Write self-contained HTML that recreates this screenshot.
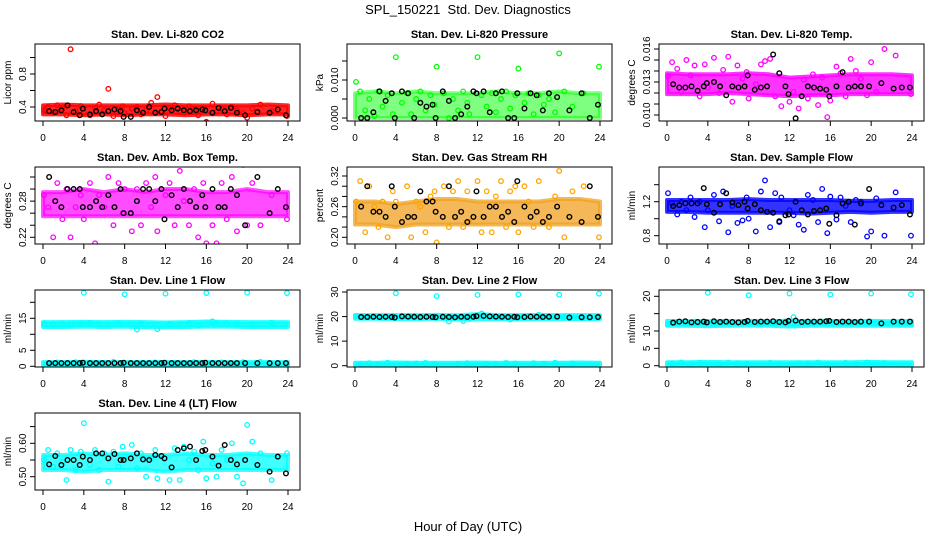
<!DOCTYPE html>
<html><head><meta charset="utf-8">
<style>
html,body{margin:0;padding:0;background:#fff;}
svg text{font-family:"Liberation Sans",sans-serif;fill:#000;}
</style></head>
<body>
<svg id="chart" xmlns="http://www.w3.org/2000/svg" width="936" height="540" viewBox="0 0 936 540">
<text x="468" y="14" text-anchor="middle" font-size="13" xml:space="preserve">SPL_150221  Std. Dev. Diagnostics</text>
<text x="468" y="531" text-anchor="middle" font-size="13">Hour of Day (UTC)</text>
</svg>
<script>
const hoursScatter=[0.1,0.5,1.0,1.4,1.9,2.3,2.7,3.2,3.7,4.0,4.6,5.1,5.5,6.0,6.4,6.9,7.4,7.8,8.0,8.7,9.2,9.6,10.1,10.6,11.0,11.2,12.0,12.4,12.9,13.4,13.8,14.3,14.8,15.2,15.7,16.0,16.6,17.0,17.5,18.0,18.5,19.0,19.6,20.0,20.5,21.3,22.4,23.9];
const hoursBlack=[0.6,1.2,1.8,2.4,3.0,3.6,3.9,4.6,5.2,5.8,6.4,7.0,7.6,7.9,8.6,9.2,9.8,10.4,11.0,11.6,11.9,12.6,13.2,13.8,14.4,15.0,15.6,15.9,16.6,17.2,17.8,18.4,19.0,19.8,21.0,22.2,23.0,23.8];
const bandHours=[0,2,4,6,8,10,12,14,16,18,20,22,24];
const xTicks=[0,4,8,12,16,20,24];

const co2Scatter=[0.36,0.4,0.33,0.42,0.38,0.3,1.10,0.35,0.41,0.33,0.3,0.39,0.43,0.36,0.62,0.29,0.37,0.41,0.33,0.38,0.4,0.31,0.36,0.45,0.34,0.52,0.29,0.38,0.42,0.35,0.33,0.41,0.37,0.3,0.39,0.22,0.44,0.34,0.38,0.31,0.4,0.36,0.33,0.27,0.38,0.43,0.35,0.29];
const co2Black=[0.35,0.34,0.36,0.42,0.34,0.3,0.38,0.31,0.35,0.31,0.35,0.37,0.35,0.28,0.28,0.36,0.33,0.4,0.33,0.34,0.38,0.36,0.38,0.36,0.35,0.36,0.37,0.36,0.33,0.39,0.35,0.39,0.33,0.3,0.34,0.33,0.37,0.3];
const co2BandLo=[0.31,0.31,0.3,0.31,0.3,0.31,0.31,0.3,0.31,0.31,0.3,0.31,0.31];
const co2BandHi=[0.42,0.43,0.42,0.42,0.42,0.42,0.43,0.42,0.42,0.42,0.42,0.43,0.42];

const presScatter=[0.0095,0.007,0.002,0.005,0.0005,0.007,0.003,0.006,0.001,0.016,0.004,0.0065,0.001,0.005,0.007,0.002,0.006,0.0035,0.0135,0.0065,0.0,0.005,0.002,0.007,0.004,0.001,0.016,0.006,0.003,0.0065,0.0015,0.005,0.007,0.0025,0.006,0.013,0.004,0.0065,0.001,0.006,0.0035,0.005,0.0015,0.017,0.007,0.003,0.0065,0.0135];
const presBlack=[0.0,0.0,0.0015,0.007,0.0045,0.0065,0.0,0.007,0.0065,0.0,0.004,0.003,0.0035,0.0,0.007,0.0045,0.0,0.001,0.003,0.007,0.0065,0.007,0.0015,0.0065,0.007,0.0,0.0,0.0065,0.0025,0.0065,0.006,0.002,0.0065,0.0055,0.002,0.0065,0.0,0.0035];
const presBandLo=[0,0,0,0,0,0,0,0,0,0,0,0,0];
const presBandHi=[0.0065,0.007,0.0065,0.007,0.0065,0.0065,0.0065,0.007,0.0065,0.0065,0.007,0.0065,0.0065];

const tempScatter=[0.0135,0.0148,0.0142,0.0121,0.015,0.0136,0.0145,0.0117,0.0146,0.0125,0.0152,0.012,0.0141,0.0153,0.0112,0.0145,0.0133,0.0139,0.0115,0.0128,0.0146,0.0149,0.0151,0.0117,0.0138,0.0108,0.0112,0.0121,0.0106,0.0132,0.0115,0.0137,0.0109,0.0134,0.0098,0.0113,0.0144,0.0138,0.0117,0.0151,0.014,0.0133,0.0118,0.0148,0.0121,0.016,0.0154,0.0119];
const tempBlack=[0.0128,0.0125,0.0125,0.0126,0.0122,0.0126,0.0129,0.0130,0.0126,0.0118,0.0126,0.0125,0.0126,0.0136,0.0123,0.0125,0.0126,0.0155,0.0138,0.0126,0.0119,0.0097,0.0117,0.0126,0.0125,0.0124,0.0123,0.0117,0.0126,0.0139,0.0125,0.0126,0.0126,0.0126,0.0129,0.0124,0.0125,0.0125];
const tempBandLo=[0.0119,0.0119,0.0119,0.012,0.0119,0.0118,0.0117,0.0118,0.0118,0.0119,0.0119,0.0119,0.0119];
const tempBandHi=[0.0138,0.0137,0.0137,0.0137,0.0138,0.0137,0.0134,0.0135,0.0136,0.0137,0.0137,0.0137,0.0136];

const ambScatter=[0.29,0.27,0.22,0.31,0.25,0.3,0.22,0.27,0.29,0.25,0.31,0.21,0.29,0.27,0.32,0.24,0.31,0.26,0.3,0.23,0.3,0.24,0.31,0.27,0.32,0.23,0.29,0.31,0.24,0.33,0.28,0.24,0.3,0.22,0.31,0.21,0.24,0.21,0.31,0.25,0.32,0.23,0.34,0.24,0.31,0.24,0.29,0.25];
const ambBlack=[0.32,0.28,0.27,0.30,0.30,0.30,0.27,0.27,0.28,0.27,0.29,0.27,0.30,0.26,0.26,0.28,0.30,0.30,0.28,0.30,0.25,0.29,0.27,0.30,0.28,0.27,0.29,0.27,0.30,0.27,0.27,0.30,0.29,0.24,0.32,0.26,0.30,0.27];
const ambBandLo=[0.255,0.255,0.255,0.255,0.255,0.255,0.255,0.255,0.255,0.255,0.255,0.255,0.255];
const ambBandHi=[0.295,0.295,0.3,0.295,0.3,0.295,0.3,0.3,0.295,0.295,0.3,0.295,0.295];

const rhScatter=[0.27,0.31,0.21,0.3,0.26,0.22,0.27,0.2,0.29,0.27,0.23,0.3,0.2,0.27,0.26,0.21,0.28,0.29,0.19,0.3,0.22,0.29,0.31,0.22,0.29,0.23,0.31,0.21,0.29,0.21,0.28,0.31,0.22,0.29,0.3,0.21,0.3,0.27,0.22,0.31,0.23,0.22,0.28,0.33,0.2,0.29,0.3,0.2];
const rhBlack=[0.26,0.3,0.25,0.25,0.24,0.3,0.26,0.23,0.24,0.24,0.29,0.27,0.27,0.25,0.24,0.3,0.24,0.25,0.23,0.24,0.29,0.24,0.26,0.26,0.24,0.25,0.23,0.31,0.26,0.24,0.25,0.23,0.24,0.26,0.24,0.23,0.3,0.24];
const rhBandLo=[0.225,0.225,0.22,0.225,0.225,0.225,0.225,0.225,0.225,0.225,0.225,0.225,0.225];
const rhBandHi=[0.27,0.27,0.265,0.27,0.275,0.275,0.27,0.27,0.27,0.27,0.275,0.275,0.27];

const flowScatter=[1.3,1.18,1.05,1.2,1.1,1.25,1.02,1.2,0.9,1.1,1.28,0.97,1.32,0.84,1.15,0.95,0.98,1.25,1.0,0.85,1.32,1.45,0.9,1.3,0.96,1.25,1.1,1.04,0.93,0.87,1.28,1.22,0.96,1.35,0.83,1.26,0.99,1.25,1.15,0.96,1.22,1.2,0.79,0.85,1.24,0.8,1.31,0.8];
const flowBlack=[1.15,1.16,1.18,1.18,1.18,1.36,1.17,1.07,1.17,1.3,1.19,1.16,1.2,1.12,1.17,1.1,1.08,1.07,0.97,1.04,1.05,1.2,1.1,1.05,1.09,1.1,1.12,0.94,1.04,1.18,1.2,0.93,1.18,1.35,1.16,1.13,1.16,1.05];
const flowBandLo=[1.08,1.08,1.07,1.07,1.07,1.07,1.07,1.06,1.07,1.08,1.07,1.08,1.08];
const flowBandHi=[1.22,1.22,1.22,1.22,1.23,1.22,1.22,1.22,1.22,1.21,1.21,1.22,1.22];

const l1Scatter=[13.3,0.8,13.1,1.2,13.4,0.9,13.0,1.3,13.2,23.0,13.5,0.7,13.2,1.1,13.0,1.4,13.3,0.9,22.5,13.1,11.5,13.4,0.8,12.9,1.2,11.6,22.7,13.2,1.0,13.1,0.8,13.4,1.3,12.7,1.0,22.9,14.0,13.5,1.2,13.3,0.9,13.2,1.3,23.0,13.1,1.4,13.6,22.9];
const l1Black=[1.0,1.0,1.0,1.0,1.0,1.0,1.1,1.0,1.0,1.0,1.0,1.0,1.0,1.1,1.0,1.0,1.0,1.0,1.0,1.0,1.1,1.0,1.0,1.0,1.0,1.0,1.0,1.1,1.0,1.0,1.0,1.0,1.0,1.0,1.0,1.0,1.0,1.0];
const l1BandLo=[12.3,12.3,12.4,12.3,12.4,12.2,12.2,12.3,12.4,12.4,12.3,12.3,12.3];
const l1BandHi=[13.8,13.8,13.9,13.8,13.9,13.8,13.7,13.8,14.0,13.9,13.8,13.8,13.8];
const l1LowLo=[0.2,0.2,0.2,0.2,0.2,0.2,0.2,0.2,0.2,0.2,0.2,0.2,0.2];
const l1LowHi=[1.3,1.3,1.4,1.3,1.3,1.3,1.3,1.3,1.4,1.3,1.3,1.3,1.3];

const l2Scatter=[20.2,0.6,19.8,1.0,20.1,0.5,19.6,1.2,20.3,29.5,19.9,0.7,20.1,0.9,19.5,1.1,20.0,0.6,28.3,19.8,18.0,19.5,0.8,18.2,1.0,19.0,28.8,21.2,0.7,20.0,0.6,19.5,1.1,18.8,0.9,29.0,19.7,20.3,1.0,20.7,0.8,19.8,1.2,28.9,20.0,0.9,19.5,29.3];
const l2Black=[19.8,19.8,19.9,19.8,19.9,19.8,19.6,20.1,20.0,19.9,19.8,19.9,19.8,19.7,19.9,19.8,19.7,19.9,19.8,19.9,20.2,20.3,20.1,20.0,19.9,19.8,19.9,19.7,19.8,20.0,19.9,19.8,19.9,20.0,19.6,19.7,19.7,19.8];
const l2BandLo=[19.1,19.1,19.0,19.0,19.1,18.8,18.9,19.0,18.9,19.0,19.0,19.0,19.0];
const l2BandHi=[20.6,20.6,20.6,20.6,20.7,20.5,21.0,20.6,20.6,20.7,20.6,20.6,20.6];
const l2LowLo=[0,0,0,0,0,0,0,0,0,0,0,0,0];
const l2LowHi=[1.2,1.2,1.3,1.2,1.2,1.2,1.3,1.2,1.2,1.2,1.2,1.3,1.2];

const l3Scatter=[12.0,0.6,12.5,0.9,12.3,0.4,12.7,0.8,12.1,21.0,12.4,0.5,12.6,0.9,12.2,0.7,12.5,0.6,20.3,12.3,12.0,12.6,0.8,12.1,0.5,12.4,20.8,14.0,0.7,12.5,0.6,12.3,0.9,12.7,0.4,20.5,12.3,12.6,0.8,12.4,0.5,12.2,0.9,20.8,12.5,0.7,12.3,20.6];
const l3Black=[12.4,12.7,12.8,12.5,12.6,12.7,12.5,12.8,12.6,12.7,12.6,12.5,12.6,12.9,12.6,12.7,12.7,12.8,12.6,12.5,12.9,13.0,12.6,12.7,12.7,12.7,12.8,12.9,12.6,12.7,12.7,12.6,12.7,12.7,12.2,12.7,12.7,12.7];
const l3BandLo=[11.5,11.5,11.4,11.5,11.6,11.5,11.3,11.5,11.5,11.5,11.5,11.5,11.5];
const l3BandHi=[12.9,12.8,12.8,12.8,12.9,12.8,13.0,12.8,12.9,12.8,12.9,12.8,12.9];
const l3LowLo=[0,0,0,0,0,0,0,0,0,0,0,0,0];
const l3LowHi=[1.0,1.0,1.1,1.0,1.0,1.0,1.0,1.0,1.0,1.0,1.1,1.0,1.0];

const l4Scatter=[0.55,0.58,0.53,0.57,0.545,0.49,0.58,0.52,0.575,0.66,0.535,0.58,0.52,0.57,0.485,0.575,0.53,0.59,0.56,0.595,0.525,0.57,0.5,0.555,0.58,0.495,0.70,0.49,0.585,0.49,0.59,0.55,0.575,0.52,0.605,0.495,0.54,0.5,0.58,0.55,0.6,0.5,0.48,0.655,0.605,0.57,0.49,0.57];
const l4Black=[0.537,0.562,0.535,0.55,0.55,0.535,0.56,0.55,0.57,0.57,0.555,0.568,0.55,0.55,0.555,0.57,0.552,0.55,0.565,0.562,0.555,0.528,0.58,0.585,0.59,0.55,0.577,0.58,0.56,0.533,0.595,0.55,0.537,0.55,0.535,0.515,0.56,0.51];
const l4BandLo=[0.52,0.52,0.515,0.52,0.52,0.52,0.515,0.52,0.52,0.52,0.52,0.52,0.52];
const l4BandHi=[0.565,0.565,0.57,0.565,0.57,0.565,0.565,0.57,0.565,0.565,0.57,0.565,0.565];

const panels=[
 {key:'co2',col:0,row:0,title:'Stan. Dev. Li-820 CO2',ylab:'Licor ppm',color:'#ff0000',op:0.85,ref:[0.4,107,0.8,74],ticks:[0.4,0.6,0.8,1.0],labels:['0.4','','0.8',''],scatter:co2Scatter,black:co2Black,bands:[[co2BandLo,co2BandHi]]},
 {key:'pressure',col:1,row:0,title:'Stan. Dev. Li-820 Pressure',ylab:'kPa',color:'#00ff00',op:0.5,ref:[0,118,0.01,80],ticks:[0,0.005,0.01,0.015],labels:['0.000','','0.010',''],scatter:presScatter,black:presBlack,bands:[[presBandLo,presBandHi]]},
 {key:'temp',col:2,row:0,title:'Stan. Dev. Li-820 Temp.',ylab:'degrees C',color:'#ff00ff',op:0.8,ref:[0.010,115,0.016,49],ticks:[0.010,0.011,0.012,0.013,0.014,0.015,0.016],labels:['0.010','','','0.013','','','0.016'],scatter:tempScatter,black:tempBlack,bands:[[tempBandLo,tempBandHi]]},
 {key:'ambbox',col:0,row:1,title:'Stan. Dev. Amb. Box Temp.',ylab:'degrees C',color:'#ff00ff',op:0.7,ref:[0.22,237.3,0.32,177],ticks:[0.22,0.24,0.26,0.28,0.30,0.32],labels:['0.22','','','0.28','',''],scatter:ambScatter,black:ambBlack,bands:[[ambBandLo,ambBandHi]]},
 {key:'rh',col:1,row:1,title:'Stan. Dev. Gas Stream RH',ylab:'percent',color:'#ffa500',fill:'#f0a020',op:0.75,ref:[0.20,237.3,0.32,176],ticks:[0.20,0.22,0.24,0.26,0.28,0.30,0.32],labels:['0.20','','','0.26','','','0.32'],scatter:rhScatter,black:rhBlack,bands:[[rhBandLo,rhBandHi]]},
 {key:'sampleflow',col:2,row:1,title:'Stan. Dev. Sample Flow',ylab:'ml/min',color:'#0000ff',op:0.8,ref:[0.8,235.7,1.2,201.7],ticks:[0.8,1.0,1.2,1.4],labels:['0.8','','1.2',''],scatter:flowScatter,black:flowBlack,bands:[[flowBandLo,flowBandHi]]},
 {key:'line1',col:0,row:2,title:'Stan. Dev. Line 1 Flow',ylab:'ml/min',color:'#00ffff',op:0.85,ref:[0,366.3,20,302.3],ticks:[0,5,10,15,20],labels:['0','5','','15',''],scatter:l1Scatter,black:l1Black,bands:[[l1BandLo,l1BandHi],[l1LowLo,l1LowHi]]},
 {key:'line2',col:1,row:2,title:'Stan. Dev. Line 2 Flow',ylab:'ml/min',color:'#00ffff',op:0.85,ref:[0,365.7,30,292],ticks:[0,10,20,30],labels:['0','10','20','30'],scatter:l2Scatter,black:l2Black,bands:[[l2BandLo,l2BandHi],[l2LowLo,l2LowHi]]},
 {key:'line3',col:2,row:2,title:'Stan. Dev. Line 3 Flow',ylab:'ml/min',color:'#00ffff',op:0.85,ref:[0,365.7,20,296.3],ticks:[0,5,10,15,20],labels:['0','5','10','','20'],scatter:l3Scatter,black:l3Black,bands:[[l3BandLo,l3BandHi],[l3LowLo,l3LowHi]]},
 {key:'line4',col:0,row:3,title:'Stan. Dev. Line 4 (LT) Flow',ylab:'ml/min',color:'#00ffff',op:0.75,ref:[0.50,476.7,0.60,443.3],ticks:[0.50,0.55,0.60,0.65],labels:['0.50','','0.60',''],scatter:l4Scatter,black:l4Black,bands:[[l4BandLo,l4BandHi]]}
];

const NS='http://www.w3.org/2000/svg';
const svg=document.getElementById('chart');
function mk(tag,attrs,parent){const e=document.createElementNS(NS,tag);for(const k in attrs)e.setAttribute(k,attrs[k]);(parent||svg).appendChild(e);return e;}

panels.forEach(p=>{
  const cx=p.col*312, L=cx+35, R=cx+300, T=44+p.row*123, B=T+77;
  const xs=h=>cx+43+h*245/24;
  const ys=v=>p.ref[1]+(v-p.ref[0])*(p.ref[3]-p.ref[1])/(p.ref[2]-p.ref[0]);
  const g=mk('g',{});
  
  
  const clipId='clip-'+p.key;
  const cp=mk('clipPath',{id:clipId},g);
  mk('rect',{x:L,y:T,width:R-L,height:B-T},cp);
  const t=mk('text',{x:(L+R)/2,y:T-6,'text-anchor':'middle','font-size':'11','font-weight':'bold'},g);
  t.textContent=p.title;
  
  
  const yl=mk('text',{x:0,y:0,'text-anchor':'middle','font-size':'10',transform:`translate(${cx+11},${(T+B)/2}) rotate(-90)`},g);
  yl.textContent=p.ylab;
  
  
  const plot=mk('g',{'clip-path':`url(#${clipId})`},g);
  p.bands.forEach((b,bi)=>{
    const lo=b[0],hi=b[1];
    let pts=[];
    bandHours.forEach((h,i)=>pts.push(xs(h)+','+ys(hi[i])));
    for(let i=bandHours.length-1;i>=0;i--)pts.push(xs(bandHours[i])+','+ys(lo[i]));
    const poly=mk('polygon',{points:pts.join(' '),fill:p.fill||p.color,stroke:p.fill||p.color,'stroke-width':'4','stroke-linejoin':'round','fill-opacity':p.op,'stroke-opacity':p.op},plot);
    
    
  });
  const n1=Math.min(hoursScatter.length,p.scatter.length);
  for(let i=0;i<n1;i++){
    const c=mk('circle',{cx:xs(hoursScatter[i]),cy:ys(p.scatter[i]),r:'2.3',fill:'none',stroke:p.color,'stroke-width':'1.3'},plot);
    
    
  }
  const n2=Math.min(hoursBlack.length,p.black.length);
  for(let i=0;i<n2;i++){
    const c=mk('circle',{cx:xs(hoursBlack[i]),cy:ys(p.black[i]),r:'2.3',fill:'none',stroke:'#000','stroke-width':'1.4'},plot);
    
    
  }
  const box=mk('rect',{x:L,y:T,width:R-L,height:B-T,fill:'none',stroke:'#000','stroke-width':'1'},g);
  
  
  p.ticks.forEach((v,i)=>{
    const y=ys(v);
    mk('line',{x1:L-5,x2:L,y1:y,y2:y,stroke:'#000','stroke-width':'1'},g);
    if(p.labels[i]){
      const tl=mk('text',{x:0,y:0,'text-anchor':'middle','font-size':'10',transform:`translate(${cx+26},${y}) rotate(-90)`},g);
      tl.textContent=p.labels[i];
      
      
    }
  });
  xTicks.forEach(h=>{
    const x=xs(h);
    mk('line',{x1:x,x2:x,y1:B,y2:B+5,stroke:'#000','stroke-width':'1'},g);
    const tl=mk('text',{x:x,y:B+20,'text-anchor':'middle','font-size':'10'},g);
    tl.textContent=String(h);
    
    
  });
});
</script>
</body></html>
